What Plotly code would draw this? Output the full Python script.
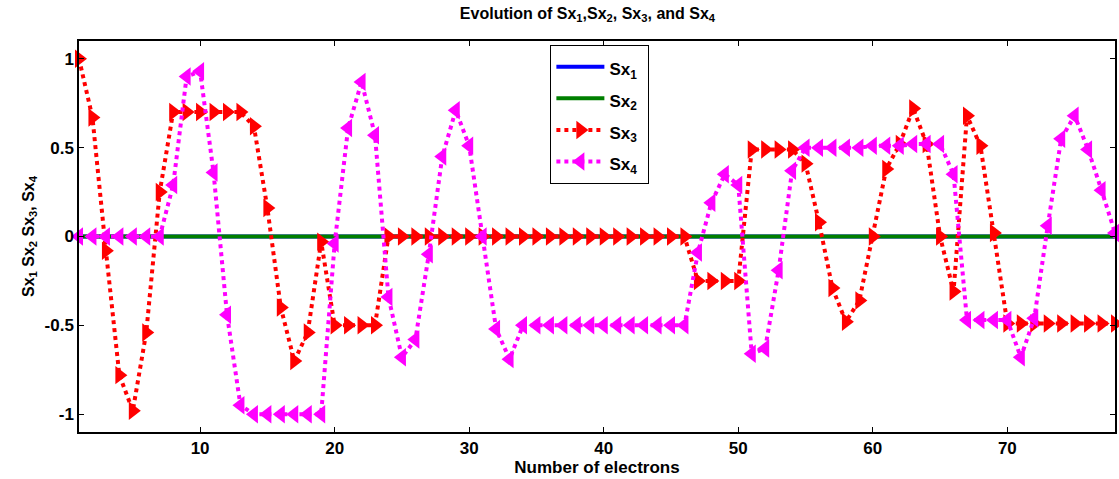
import plotly.graph_objects as go

x_vals = list(range(1, 79))

sx1 = [0.0] * 78
sx2 = [0.0] * 78

sx3 = [1.0, 0.67, -0.08, -0.78, -0.98, -0.54, 0.25, 0.70, 0.70, 0.70,
       0.70, 0.70, 0.70, 0.62, 0.16, -0.40, -0.70, -0.54, -0.03, -0.50,
       -0.50, -0.50, -0.50, 0.0, 0.0, 0.0, 0.0, 0.0, 0.0, 0.0,
       0.0, 0.0, 0.0, 0.0, 0.0, 0.0, 0.0, 0.0, 0.0, 0.0,
       0.0, 0.0, 0.0, 0.0, 0.0, 0.0, -0.25, -0.25, -0.25, -0.25,
       0.49, 0.49, 0.49, 0.49, 0.41, 0.08, -0.29, -0.48, -0.36, 0.0,
       0.38, 0.52, 0.72, 0.52, 0.0, -0.31, 0.68, 0.51, 0.02, -0.49,
       -0.49, -0.49, -0.49, -0.49, -0.49, -0.49, -0.49, -0.49]

sx4 = [0.0, 0.0, 0.0, 0.0, 0.0, 0.0, 0.0, 0.29, 0.90, 0.93,
       0.36, -0.44, -0.95, -1.0, -1.0, -1.0, -1.0, -1.0, -1.0, -0.04,
       0.61, 0.87, 0.57, -0.34, -0.68, -0.58, -0.10, 0.45, 0.71, 0.51,
       0.0, -0.52, -0.69, -0.50, -0.50, -0.50, -0.50, -0.50, -0.50, -0.50,
       -0.50, -0.50, -0.50, -0.50, -0.50, -0.50, -0.09, 0.19, 0.35, 0.29,
       -0.66, -0.63, -0.19, 0.37, 0.50, 0.50, 0.50, 0.50, 0.50, 0.51,
       0.51, 0.51, 0.52, 0.52, 0.52, 0.35, -0.47, -0.47, -0.47, -0.47,
       -0.68, -0.46, 0.06, 0.55, 0.68, 0.49, 0.26, 0.02]

x_ticks = [10, 20, 30, 40, 50, 60, 70]
y_ticks = [-1, -0.5, 0, 0.5, 1]
y_tick_text = ["-1", "-0.5", "0", "0.5", "1"]
series_names = ["Sx<sub>1</sub>", "Sx<sub>2</sub>", "Sx<sub>3</sub>", "Sx<sub>4</sub>"]

FONT = "Liberation Sans"


def legend_label(name):
    return "<span style='font-size:17px'>" + name + "</span>&nbsp;"


fig = go.Figure()
fig.add_trace(go.Scatter(x=x_vals, y=sx1, mode="lines", name=legend_label(series_names[0]),
                         line=dict(color="#0000ff", width=4), cliponaxis=False))
fig.add_trace(go.Scatter(x=x_vals, y=sx2, mode="lines", name=legend_label(series_names[1]),
                         line=dict(color="#007f00", width=4), cliponaxis=False))
fig.add_trace(go.Scatter(x=x_vals, y=sx3, mode="lines+markers", name=legend_label(series_names[2]),
                         line=dict(color="#ff0000", width=4, dash="dot"),
                         marker=dict(symbol="triangle-right", size=16, color="#ff0000"),
                         cliponaxis=False))
fig.add_trace(go.Scatter(x=x_vals, y=sx4, mode="lines+markers", name=legend_label(series_names[3]),
                         line=dict(color="#ff00ff", width=4, dash="dot"),
                         marker=dict(symbol="triangle-left", size=16, color="#ff00ff"),
                         cliponaxis=False))

axis_common = dict(showline=True, linecolor="black", linewidth=1.5, mirror="ticks",
                   ticks="inside", ticklen=5, tickcolor="black", showgrid=False,
                   zeroline=False,
                   tickfont=dict(family=FONT, size=17, color="black", weight="bold"))

fig.update_layout(
    width=1119, height=479,
    margin=dict(l=79, r=2, t=41, b=47),
    paper_bgcolor="white", plot_bgcolor="white",
    title=dict(text="Evolution of Sx<sub>1</sub>,Sx<sub>2</sub>, Sx<sub>3</sub>, and Sx<sub>4</sub>",
               x=0.525, xanchor="center", y=0.972, yanchor="middle",
               font=dict(family=FONT, size=16, color="black", weight="bold")),
    xaxis=dict(range=[1, 78], tickvals=x_ticks,
               title=dict(text="Number of electrons", standoff=4,
                          font=dict(family=FONT, size=17, color="black", weight="bold")),
               **axis_common),
    yaxis=dict(range=[-1.1, 1.1], tickvals=y_ticks, ticktext=y_tick_text,
               title=dict(text="Sx<sub>1</sub> Sx<sub>2</sub> Sx<sub>3</sub>, Sx<sub>4</sub>", standoff=6,
                          font=dict(family=FONT, size=16, color="black", weight="bold")),
               **axis_common),
    legend=dict(x=0.455, y=0.99, xanchor="left", yanchor="top",
                bgcolor="white", bordercolor="black", borderwidth=1,
                font=dict(family=FONT, size=22, color="black", weight="bold"),
                tracegroupgap=0, itemwidth=48),
    showlegend=True,
)

fig.write_html("out.html")
